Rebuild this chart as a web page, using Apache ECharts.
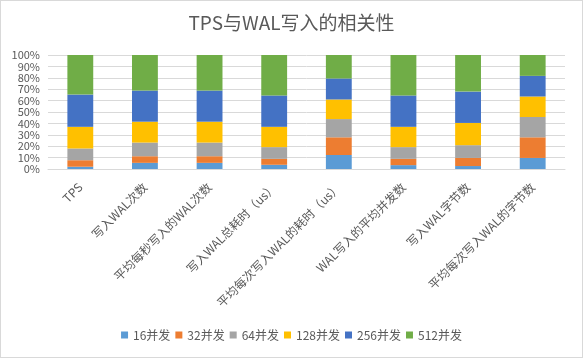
<!DOCTYPE html>
<html><head><meta charset="utf-8">
<script src="https://cdn.jsdelivr.net/npm/echarts@6/dist/echarts.min.js"></script>
<style>html,body{margin:0;padding:0;background:#fff}#c{width:583px;height:358px;box-sizing:border-box;border:1px solid #d9d9d9}</style>
</head><body><div id="c"></div>
<script>
const categories = ["TPS","写入WAL次数","平均每秒写入的WAL次数","写入WAL总耗时（us）","平均每次写入WAL的耗时（us）","WAL写入的平均并发数","写入WAL字节数","平均每次写入WAL的字节数"];
const seriesNames = ["16并发","32并发","64并发","128并发","256并发","512并发"];
const s16  = [2.0, 5.4, 5.4, 3.7, 12.3, 3.4, 2.6, 9.7];
const s32  = [5.7, 5.8, 5.8, 5.2, 15.5, 5.5, 7.1, 18.1];
const s64  = [10.3, 12.0, 12.0, 10.3, 16.0, 10.3, 11.2, 17.8];
const s128 = [19.0, 18.3, 18.3, 17.8, 17.2, 17.8, 19.5, 18.0];
const s256 = [28.3, 27.3, 27.3, 27.5, 18.4, 27.5, 27.5, 18.1];
const s512 = [34.7, 31.2, 31.2, 35.5, 20.6, 35.5, 32.1, 18.3];
const colors = ["#5b9bd5","#ed7d31","#a5a5a5","#ffc000","#4472c4","#70ad47"];
const yTicks = [0,10,20,30,40,50,60,70,80,90,100];

const all = [s16,s32,s64,s128,s256,s512];
const chart = echarts.init(document.getElementById('c'));
const font = '"Noto Sans CJK SC", "Noto Sans", sans-serif';
chart.setOption({
  animation:false,
  textStyle:{fontFamily:font},
  title:{text:"TPS与WAL写入的相关性",left:'center',top:7,textStyle:{fontSize:19,fontWeight:'normal',color:'#595959',fontFamily:font}},
  grid:{left:47,right:17,top:54,bottom:188,containLabel:false},
  legend:{bottom:11,left:'center',itemWidth:7,itemHeight:7,itemGap:5,icon:'rect',
    textStyle:{fontSize:12,color:'#595959',fontFamily:font},data:seriesNames},
  xAxis:{type:'category',data:categories,
    axisLine:{lineStyle:{color:'#d9d9d9'}},axisTick:{show:false},
    axisLabel:{rotate:45,interval:0,fontSize:12,color:'#595959',margin:16,fontFamily:font}},
  yAxis:{type:'value',min:0,max:yTicks[yTicks.length-1],interval:10,
    axisLine:{show:false},axisTick:{show:false},
    splitLine:{lineStyle:{color:'#d9d9d9'}},
    axisLabel:{formatter:v=>v+'%',fontSize:11,color:'#595959',fontFamily:font}},
  series: seriesNames.map((n,i)=>({name:n,type:'bar',stack:'t',barWidth:'40%',
    itemStyle:{color:colors[i]},data:all[i]}))
});
</script></body></html>
